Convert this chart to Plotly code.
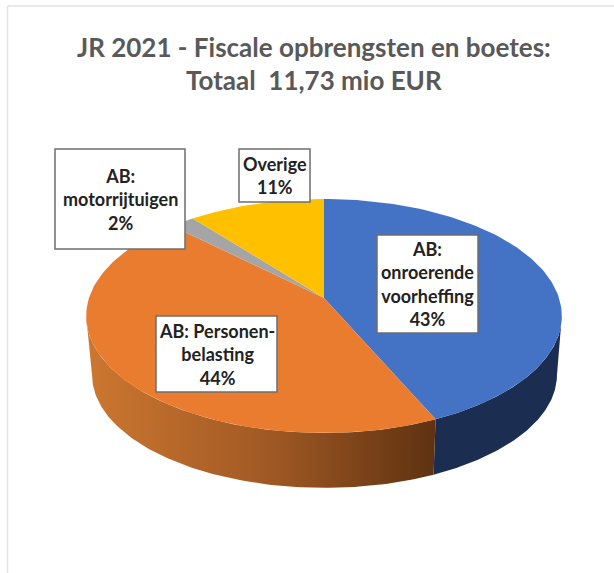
import numpy as np
import plotly.graph_objects as go

# --- data ---
categories = ["AB: onroerende voorheffing", "AB: Personenbelasting", "AB: motorrijtuigen", "Overige"]
values_mio_eur = [5.08, 5.16, 0.23, 1.26]
slice_colors = ["#4472C4", "#EA7C30", "#A5A5A5", "#FFC000"]
label_texts = ["AB:<br>onroerende<br>voorheffing<br>43%", "AB: Personen-<br>belasting<br>44%",
               "AB:<br>motorrijtuigen<br>2%", "Overige<br>11%"]
title_lines = ["JR 2021 - Fiscale opbrengsten en boetes:", "Totaal  11,73 mio EUR"]

# --- geometry of the tilted disc (pixels), projective map of a circle ---
TOP = dict(xc=324, yc=298, a=235, b=114.2)
BOT = dict(xc=324.5, yc=357.5, a=229.7, b=110.3)
K = 0.1538

def project(theta, d):
    u, v = np.sin(theta), -np.cos(theta)
    den = 1 - K * v
    return d["xc"] + d["a"] * u / den, d["yc"] + d["b"] * v / den

total = sum(values_mio_eur)
edges = 2 * np.pi * np.cumsum([0] + values_mio_eur) / total

fig = go.Figure()

# side walls
def wall(t0, t1, **style):
    t = np.linspace(t0, t1, 120)
    x1, y1 = project(t, TOP)
    x2, y2 = project(t[::-1], BOT)
    fig.add_trace(go.Scatter(x=np.r_[x1, x2, x1[0]], y=np.r_[y1, y2, y1[0]], mode="lines",
                             line=dict(width=0), fill="toself", hoverinfo="skip", **style))

right_sil = np.pi / 2 + np.arcsin(K)
left_sil = 3 * np.pi / 2 - np.arcsin(K)
wall(right_sil, edges[1], fillcolor="#1B2E52")
wall(edges[1], left_sil, fillgradient=dict(
    type="horizontal", start=92, stop=435,
    colorscale=[[0, "#CB7630"], [0.5, "#A25A24"], [1, "#5F3211"]]))

# top slices
for i, name in enumerate(categories):
    t = np.linspace(edges[i], edges[i + 1], 120)
    x, y = project(t, TOP)
    fig.add_trace(go.Scatter(x=np.r_[TOP["xc"], x, TOP["xc"]], y=np.r_[TOP["yc"], y, TOP["yc"]],
                             mode="lines", line=dict(width=0), fill="toself",
                             fillcolor=slice_colors[i], name=name, hoverinfo="name"))

# faint frame of the original slide
shapes = [
    dict(type="line", x0=7.5, x1=7.5, y0=6, y1=573, xref="x", yref="y", line=dict(color="#E2E2E2", width=1.5)),
    dict(type="line", x0=7.5, x1=614, y0=6, y1=6, xref="x", yref="y", line=dict(color="#E2E2E2", width=1.5)),
]

# data-label boxes (left, top, right, bottom in pixels)
boxes = [(377, 235, 478, 333), (156, 316, 277, 392), (55, 149, 185, 249), (239, 149, 310, 202)]
for (x0, y0, x1, y1), txt in zip(boxes, label_texts):
    shapes.append(dict(type="rect", x0=x0, y0=y0, x1=x1, y1=y1, xref="x", yref="y",
                       fillcolor="white", line=dict(color="#6E6E6E", width=1.5), layer="above"))
    fig.add_annotation(x=(x0 + x1) / 2, y=(y0 + y1) / 2, text=txt, showarrow=False, xref="x", yref="y",
                       align="center", font=dict(family="Lato", size=18, color="#222222", weight=700))

for line, ypos in zip(title_lines, (47, 80)):
    fig.add_annotation(x=314, y=ypos, text=line, showarrow=False, xref="x", yref="y", align="center",
                       font=dict(family="Lato", size=26, color="#595959", weight=700))

fig.update_layout(width=614, height=573, margin=dict(l=0, r=0, t=0, b=0), showlegend=False,
                  paper_bgcolor="white", plot_bgcolor="white", shapes=shapes,
                  xaxis=dict(range=[0, 614], visible=False, fixedrange=True),
                  yaxis=dict(range=[573, 0], visible=False, fixedrange=True))
fig.write_html("out.html", config={"displayModeBar": False},
               post_script="document.body.style.margin='0';document.body.style.overflow='hidden';")
